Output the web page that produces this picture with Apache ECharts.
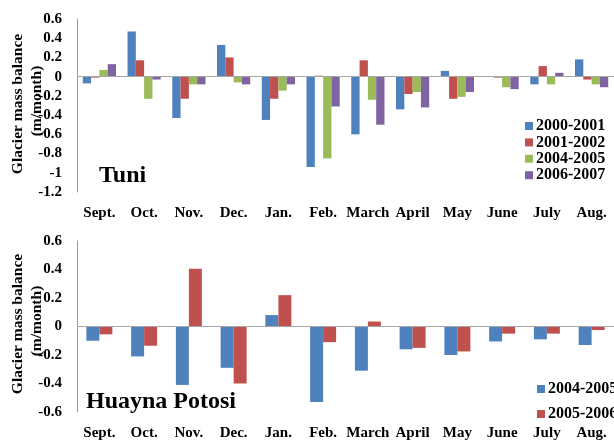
<!DOCTYPE html>
<html><head><meta charset="utf-8">
<script src="https://cdn.jsdelivr.net/npm/echarts@6/dist/echarts.min.js"></script>
<style>html,body{margin:0;padding:0;background:#fff}#c{width:614px;height:441px}</style>
</head><body><div id="c"></div>
<script>
const months = ["Sept.","Oct.","Nov.","Dec.","Jan.","Feb.","March","April","May","June","July","Aug."];
const yTicksTop = [-1.2, 0.6, 0.2];      // min, max, interval
const yTicksBottom = [-0.6, 0.6, 0.2];
const tuniNames = ["2000-2001","2001-2002","2004-2005","2006-2007"];
const tuni2000 = [-0.07, 0.47, -0.43, 0.33, -0.45, -0.94, -0.60, -0.34, 0.06, 0.005, -0.08, 0.18];
const tuni2001 = [-0.01, 0.17, -0.23, 0.20, -0.23, 0.01, 0.17, -0.18, -0.23, -0.01, 0.11, -0.03];
const tuni2004 = [0.07, -0.23, -0.08, -0.06, -0.145, -0.85, -0.24, -0.16, -0.21, -0.11, -0.08, -0.08];
const tuni2006 = [0.13, -0.03, -0.08, -0.08, -0.08, -0.31, -0.50, -0.32, -0.16, -0.13, 0.04, -0.11];
const hpNames = ["2004-2005","2005-2006"];
const hp2004 = [-0.10, -0.21, -0.41, -0.29, 0.08, -0.53, -0.31, -0.16, -0.20, -0.105, -0.09, -0.13];
const hp2005 = [-0.055, -0.135, 0.405, -0.40, 0.22, -0.11, 0.035, -0.15, -0.175, -0.05, -0.05, -0.025];

const colors = ["#4F81BD","#C0504D","#9BBB59","#8064A2"];
const FONT = "Liberation Serif";
const HP = "HP ";
const chart = echarts.init(document.getElementById('c'));

function xAx(gi){
  return {type:'category', gridIndex:gi, data:months, position:'bottom',
    axisLine:{show:false}, axisTick:{show:false},
    axisLabel:{interval:0, margin:14, color:'#000', fontFamily:FONT, fontWeight:'bold', fontSize:15}};
}
function yAx(gi, t){
  return {type:'value', gridIndex:gi, min:t[0], max:t[1], interval:t[2],
    axisLine:{show:true, lineStyle:{color:'#999', width:1}}, axisTick:{show:false}, splitLine:{show:false},
    axisLabel:{margin:15, color:'#000', fontFamily:FONT, fontWeight:'bold', fontSize:15,
      formatter:v=>{const r=Math.round(v*10)/10; return r===0?'0':String(r);}}};
}
const zeroLine = {silent:true, symbol:'none', label:{show:false}, lineStyle:{color:'#A6A6A6', width:1.2, type:'solid'}, data:[{yAxis:0}]};

const series = [];
[tuni2000,tuni2001,tuni2004,tuni2006].forEach((d,i)=>{
  series.push({name:tuniNames[i], type:'bar', xAxisIndex:0, yAxisIndex:0, data:d,
    barWidth:8.3, barGap:'0%', itemStyle:{color:colors[i]},
    markLine: i===0 ? zeroLine : undefined, z:2});
});
[hp2004,hp2005].forEach((d,i)=>{
  series.push({name:HP+hpNames[i], type:'bar', xAxisIndex:1, yAxisIndex:1, data:d,
    barWidth:13, barGap:'0%', itemStyle:{color:colors[i]},
    markLine: i===0 ? zeroLine : undefined, z:2});
});

function legendCfg(names, left, top, gap){
  return {orient:'vertical', left:left, top:top, data:names, icon:'rect', itemWidth:8, itemHeight:8,
    itemGap:gap, formatter:n=>n.replace(HP,''),
    textStyle:{fontFamily:FONT, fontWeight:'bold', fontSize:16, color:'#000', lineHeight:16, padding:[0,0,0,-2]}};
}
function txt(text, x, y, size, rot, align){
  return {type:'text', x:x, y:y, rotation:rot||0,
    style:{text:text, font:'bold '+size+'px "'+FONT+'"', fill:'#000', align:align||'center', verticalAlign:'middle'}};
}

chart.setOption({
  animation:false,
  grid:[{left:77, top:19, width:537, height:173},{left:77, top:241, width:537, height:171}],
  xAxis:[xAx(0), xAx(1)],
  yAxis:[yAx(0, yTicksTop), yAx(1, yTicksBottom)],
  legend:[legendCfg(tuniNames, 520, 113, 0.4), legendCfg(hpNames.map(n=>HP+n), 532, 376, 9)],
  series:series,
  graphic:[
    txt('Glacier mass balance', 18, 104, 15.5, Math.PI/2),
    txt('(m/month)', 37, 101, 15.5, Math.PI/2),
    txt('Glacier mass balance', 18, 324, 15.5, Math.PI/2),
    txt('(m/month)', 37, 321, 15.5, Math.PI/2),
    txt('Tuni', 99, 176, 24, 0, 'left'),
    txt('Huayna Potosi', 86, 402, 24, 0, 'left')
  ]
});
</script></body></html>
